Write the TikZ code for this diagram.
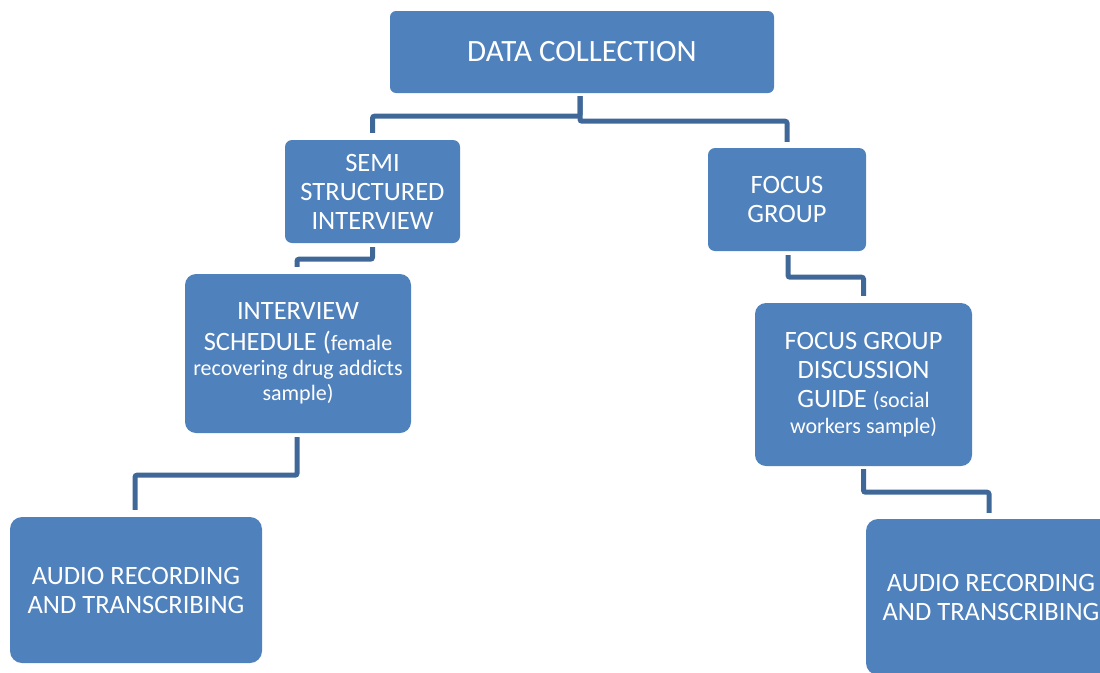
\documentclass[tikz,border=0pt]{standalone}
\usepackage{fontspec}
\setmainfont{Carlito}
\usetikzlibrary{calc}
\definecolor{boxblue}{HTML}{4F81BD}
\definecolor{lineblue}{HTML}{3F6899}
\tikzset{
  box/.style={fill=boxblue, draw=none, text=white, align=center, inner sep=0pt,
    font=\fontsize{26.5}{29}\selectfont},
  conn/.style={draw=lineblue, line width=5pt, rounded corners=2pt},
}
\newcommand{\sm}[1]{{\fontsize{22}{24}\selectfont #1}}
\begin{document}
\begin{tikzpicture}[x=1pt,y=-1pt]
\useasboundingbox (0,0) rectangle (1100,672);
\node[box, rounded corners=6pt, minimum width=384pt, minimum height=82pt,
  font=\fontsize{31}{37}\selectfont] (dc) at (582,52) {DATA COLLECTION};
\node[box, rounded corners=7pt, minimum width=175pt, minimum height=103pt] (semi) at (372.5,191.5) {SEMI\\STRUCTURED\\INTERVIEW};
\node[box, rounded corners=7pt, minimum width=158pt, minimum height=103pt] (focus) at (787,199.5) {FOCUS\\GROUP};
\node[box, rounded corners=11pt, minimum width=226pt, minimum height=159pt] (sched) at (298,353.5) {INTERVIEW\\[2pt]SCHEDULE (\sm{female}\\[-4pt]\sm{recovering drug addicts}\\[-4pt]\sm{sample)}};
\node[box, rounded corners=11pt, minimum width=217pt, minimum height=163pt] (fdg) at (863.5,384.5) {FOCUS GROUP\\DISCUSSION\\GUIDE \sm{(social}\\[-3pt]\sm{workers sample)}};
\node[box, rounded corners=12pt, minimum width=252pt, minimum height=146pt] (audl) at (136,590) {AUDIO RECORDING\\AND TRANSCRIBING};
\node[box, rounded corners=12pt, minimum width=250pt, minimum height=156pt] (audr) at (991,597) {AUDIO RECORDING\\AND TRANSCRIBING};
\draw[conn] ($(dc.south)+(-2,3)$) -- ++(0,20) -| ($(semi.north)+(0,-7)$);
\draw[conn] ($(dc.south)+(-2,3)$) -- ++(0,25) -| ($(focus.north)+(0,-6)$);
\draw[conn] ($(semi.south)+(0,4)$) -- ++(0,12) -| ($(sched.north)+(-1,-7)$);
\draw[conn] ($(sched.south)+(-1,4)$) -- ++(0,38) -| ($(audl.north)+(-1,-7)$);
\draw[conn] ($(focus.south)+(1,4)$) -- ++(0,22) -| ($(fdg.north)+(0,-7)$);
\draw[conn] ($(fdg.south)+(0,3)$) -- ++(0,23) -| ($(audr.north)+(-2,-6)$);
\end{tikzpicture}
\end{document}
